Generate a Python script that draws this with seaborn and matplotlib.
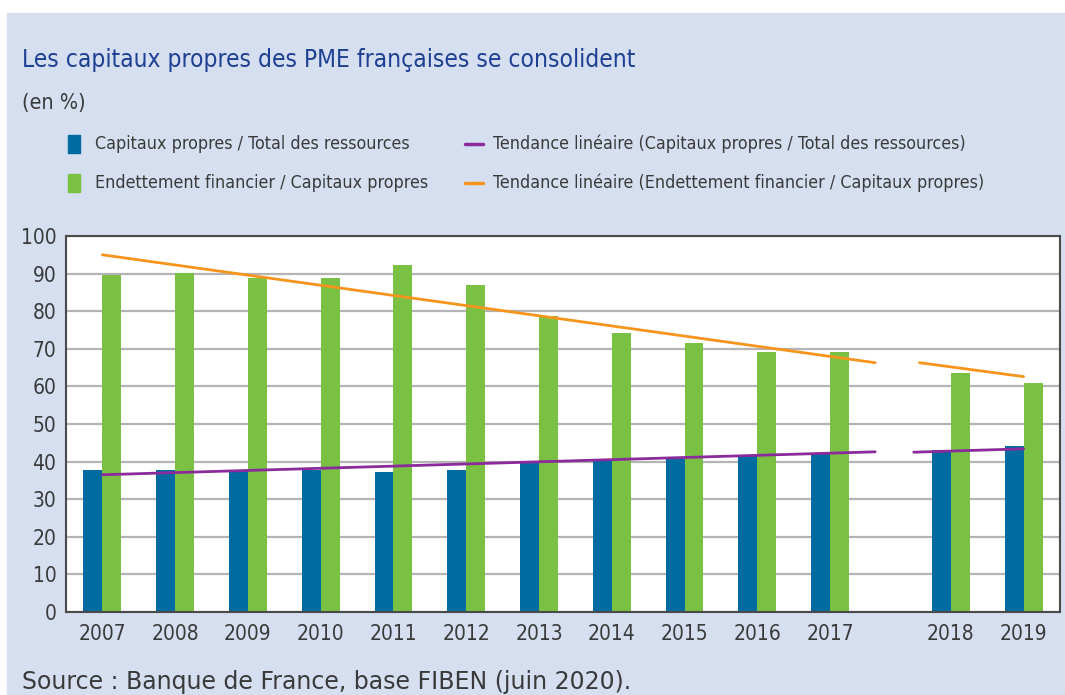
import numpy as np
import pandas as pd
import matplotlib
matplotlib.use("Agg")
import matplotlib.pyplot as plt
import seaborn as sns
from matplotlib.patches import Rectangle
from matplotlib.lines import Line2D

# ---------------- données ----------------
annees = ["2007", "2008", "2009", "2010", "2011", "2012", "2013",
          "2014", "2015", "2016", "2017", "2018", "2019"]
cp_total = [37.8, 37.8, 37.6, 37.8, 37.3, 37.8, 39.5,
            40.2, 40.8, 41.5, 41.9, 43.1, 44.1]
endet_cp = [89.5, 90.1, 88.7, 88.7, 92.2, 87.1, 78.7,
            74.1, 71.5, 69.1, 69.1, 63.6, 60.8]
# tendances linéaires (début/fin de chaque segment)
tend_cp_1 = [36.5, 42.6]
tend_cp_2 = [42.5, 43.4]
tend_end_1 = [95.0, 66.3]
tend_end_2 = [66.3, 62.6]

serie_cp = "Capitaux propres / Total des ressources"
serie_end = "Endettement financier / Capitaux propres"

# positions : rupture entre 2017 et 2018
pos = list(range(11)) + [11.66, 12.66]

df = pd.DataFrame({
    "pos": pos * 2,
    "valeur": cp_total + endet_cp,
    "serie": [serie_cp] * 13 + [serie_end] * 13,
})

bleu = "#006ba1"
vert = "#7ac143"
violet = "#8a2a9b"
orange = "#f7941d"
fond = "#d5dff0"
txt = "#3a3a3a"

sns.set_style("white")
plt.rcParams["font.family"] = ["DejaVu Sans"]
plt.rcParams["font.stretch"] = "condensed"   # DejaVu Sans Condensed

fig = plt.figure(figsize=(10.65, 6.95), dpi=100)
fig.patch.set_facecolor("white")
fig.patches.append(Rectangle((7 / 1065, 0), 1, (695 - 13) / 695,
                             transform=fig.transFigure, color=fond, zorder=-10))

ax = fig.add_axes([66 / 1065, (695 - 612) / 695, (1060 - 66) / 1065, (612 - 236) / 695])
ax.set_facecolor("white")

sns.barplot(data=df, x="pos", y="valeur", hue="serie", native_scale=True,
            palette=[bleu, vert], width=0.52, errorbar=None, legend=False,
            saturation=1, linewidth=0, ax=ax, zorder=2)

# tendances
ax.plot([0, 10.62], tend_end_1, color=orange, lw=2, zorder=3)
ax.plot([11.23, 12.66], tend_end_2, color=orange, lw=2, zorder=3)
ax.plot([0, 10.62], tend_cp_1, color=violet, lw=2, zorder=3)
ax.plot([11.15, 12.66], tend_cp_2, color=violet, lw=2, zorder=3)

ax.set_xlim(-0.5, 13.16)
ax.set_ylim(0, 100)
ax.set_yticks(range(0, 101, 10))
ax.set_xticks(pos)
ax.set_xticklabels(annees)
ax.set_xlabel("")
ax.set_ylabel("")
ax.yaxis.grid(True, color="#b4b4b4", lw=1.6, zorder=0)
ax.set_axisbelow(True)
ax.tick_params(axis="both", length=0, labelsize=15, colors=txt)
ax.tick_params(axis="y", pad=7)
ax.tick_params(axis="x", pad=9)
for s in ax.spines.values():
    s.set_color("#4a4a4a")
    s.set_linewidth(1.5)

# titres
fig.text(22 / 1065, 1 - 60 / 695, "Les capitaux propres des PME françaises se consolident",
         fontsize=17.6, color="#1d3f94", va="center", ha="left")
fig.text(22 / 1065, 1 - 103 / 695, "(en %)", fontsize=15.5, color=txt,
         va="center", ha="left")

# légende
def carre(x, y, c):
    fig.patches.append(Rectangle((x / 1065, 1 - (y + 9) / 695), 12 / 1065, 18 / 695,
                                 transform=fig.transFigure, color=c))

def trait(x, y, c):
    fig.lines.append(Line2D([x / 1065, (x + 18) / 1065], [1 - y / 695, 1 - y / 695],
                            transform=fig.transFigure, color=c, lw=2.5))

carre(68, 144, bleu)
carre(68, 183, vert)
fig.text(95 / 1065, 1 - 144 / 695, serie_cp, fontsize=12.8, color=txt, va="center")
fig.text(95 / 1065, 1 - 183 / 695, serie_end, fontsize=12.8, color=txt, va="center")
trait(465, 144, violet)
trait(465, 183, orange)
fig.text(493 / 1065, 1 - 144 / 695, "Tendance linéaire (Capitaux propres / Total des ressources)",
         fontsize=12.8, color=txt, va="center")
fig.text(493 / 1065, 1 - 183 / 695, "Tendance linéaire (Endettement financier / Capitaux propres)",
         fontsize=12.8, color=txt, va="center")

fig.text(22 / 1065, 1 - 682 / 695, "Source : Banque de France, base FIBEN (juin 2020).",
         fontsize=17, color=txt, va="center", family=["DejaVu Sans"],
         fontstretch="normal")

fig.savefig("out.png", dpi=100)
